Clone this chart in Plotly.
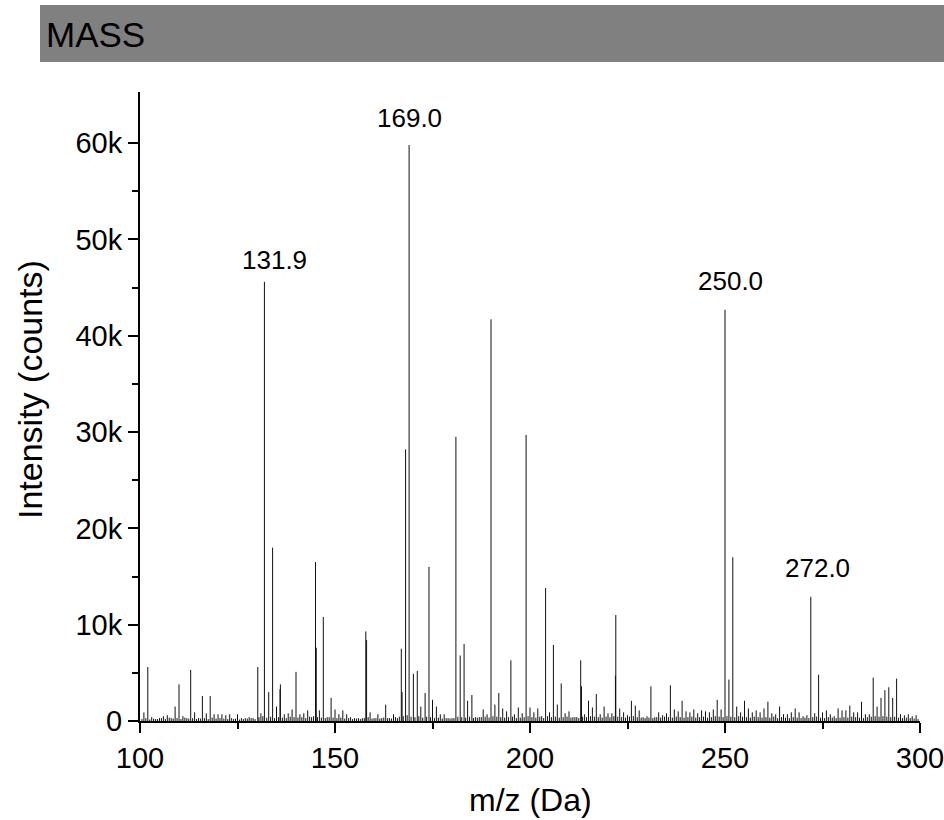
import plotly.graph_objects as go

# ---------------- data ----------------
# labelled / major peaks: m/z and intensity (counts)
peak_mz = [102.0, 110.0, 113.0, 116.0, 118.0, 130.2, 131.9, 133.0, 134.0, 136.0, 135.9,
           140.0, 145.0, 145.2, 147.0, 149.0, 157.9, 158.1, 167.0, 167.2, 168.1, 169.0,
           170.1, 171.1, 173.1, 174.1, 181.0, 182.1, 183.1, 185.1, 190.0, 195.1, 199.0,
           204.0, 206.0, 208.0, 213.0, 213.2, 221.9, 222.0, 231.0, 236.0, 250.0, 251.0,
           252.0, 272.0, 274.0, 288.0, 290.0, 291.0, 292.0, 293.0, 294.0]
peak_int = [5600, 3800, 5300, 2600, 2600, 5600, 45600, 3000, 18000, 3800, 3300,
            5100, 16500, 7600, 10800, 2400, 9300, 8400, 7500, 3000, 28200, 59800,
            4900, 5200, 2900, 16000, 29500, 6800, 8000, 2700, 41700, 6300, 29700,
            13800, 7900, 3900, 6300, 3600, 4700, 11000, 3600, 3700, 42700, 4300,
            17000, 12900, 4800, 4500, 2400, 3200, 3500, 2400, 4400]

# small background peaks at nominal masses: m/z and intensity (counts)
noise_mz = [101, 103, 104, 105, 106, 107, 108, 109, 111, 112, 114, 115, 117, 119, 120,
            121, 122, 123, 124, 125, 126, 127, 128, 129, 131, 135, 137, 138, 139, 141,
            142, 143, 144, 146, 148, 150, 151, 152, 153, 154, 155, 156, 157, 159, 160,
            161, 162, 163, 164, 165, 166, 172, 175, 176, 177, 178, 179, 180, 184, 186,
            187, 188, 189, 191, 192, 193, 194, 196, 197, 198, 200, 201, 202, 203, 205,
            207, 209, 210, 211, 212, 214, 215, 216, 217, 218, 219, 220, 221, 223, 224,
            225, 226, 227, 228, 229, 230, 232, 233, 234, 235, 237, 238, 239, 240, 241,
            242, 243, 244, 245, 246, 247, 248, 249, 253, 254, 255, 256, 257, 258, 259,
            260, 261, 262, 263, 264, 265, 266, 267, 268, 269, 270, 271, 273, 275, 276,
            277, 278, 279, 280, 281, 282, 283, 284, 285, 286, 287, 289, 295, 296, 297,
            298, 299]
noise_int = [900, 400, 200, 300, 500, 600, 300, 1500, 500, 300, 900, 300, 800, 700, 700,
             700, 600, 700, 200, 700, 300, 300, 400, 300, 800, 1500, 700, 800, 1200, 700,
             800, 1100, 400, 1100, 400, 1200, 700, 1100, 700, 400, 300, 300, 300, 900, 300,
             700, 300, 1700, 300, 700, 300, 1500, 2200, 1500, 700, 700, 300, 300, 2100, 400,
             400, 1200, 700, 1700, 2900, 1300, 1000, 700, 1400, 800, 1400, 900, 1300, 500, 900,
             1700, 800, 1000, 400, 400, 700, 2100, 1400, 2800, 700, 1500, 800, 800, 1300, 900,
             600, 2100, 1600, 1100, 400, 500, 400, 900, 600, 800, 1200, 1000, 2100, 1000, 900,
             1200, 800, 1100, 1000, 900, 1200, 2200, 1200, 1500, 900, 2100, 1300, 900, 1100, 900,
             1300, 2000, 800, 700, 1500, 700, 700, 900, 1300, 900, 500, 600, 800, 900, 1100,
             700, 500, 1300, 1100, 1100, 1600, 900, 900, 2000, 700, 700, 1500, 700, 600, 700,
             500, 600]

# very small baseline peaks between nominal masses (100.5 ... 299.5), counts
baseline_int = [200, 300, 150, 250, 200, 300, 200, 350, 250, 300,
                200, 350, 250, 300, 200, 250, 300, 200, 350, 250,
                300, 250, 200, 300, 250, 150, 200, 250, 300, 200,
                400, 500, 350, 450, 300, 400, 350, 300, 450, 400,
                350, 400, 300, 450, 500, 400, 350, 300, 400, 350,
                300, 350, 250, 300, 200, 250, 200, 300, 400, 250,
                300, 250, 350, 300, 250, 400, 450, 500, 600, 450,
                400, 500, 350, 450, 400, 300, 350, 250, 300, 250,
                300, 450, 400, 350, 450, 300, 350, 400, 450, 350,
                500, 450, 400, 350, 400, 450, 300, 350, 400, 500,
                400, 350, 450, 300, 500, 400, 450, 350, 400, 450,
                350, 400, 300, 450, 400, 500, 450, 400, 350, 450,
                400, 500, 450, 400, 350, 450, 500, 400, 350, 300,
                350, 300, 400, 350, 450, 400, 350, 450, 400, 350,
                400, 450, 350, 400, 450, 350, 400, 500, 450, 400,
                500, 450, 400, 500, 450, 400, 350, 450, 400, 350,
                400, 350, 450, 300, 400, 350, 300, 400, 350, 300,
                350, 300, 400, 450, 350, 300, 400, 350, 300, 350,
                400, 350, 450, 400, 350, 300, 400, 450, 500, 450,
                500, 450, 400, 450, 350, 300, 350, 300, 250, 200]
baseline_mz = [100.5 + i for i in range(len(baseline_int))]

label_mz = [131.9, 169.0, 250.0, 272.0]
label_int = [45600, 59800, 42700, 12900]
label_text = ["131.9", "169.0", "250.0", "272.0"]

x_tickvals = [100, 150, 200, 250, 300]
x_minor = [125, 175, 225, 275]
y_tickvals = [0, 10000, 20000, 30000, 40000, 50000, 60000]
y_ticktext = ["0", "10k", "20k", "30k", "40k", "50k", "60k"]
y_minor = [5000, 15000, 25000, 35000, 45000, 55000]

title_text = "MASS"
x_title = "m/z (Da)"
y_title = "Intensity (counts)"

# ---------------- styles ----------------
label_xshift = [10, 0, 5, 7]
label_yshift = [22, 27, 29, 29]
FONT = "Arial, Liberation Sans, sans-serif"

xs, ys = [], []
pairs = (list(zip(baseline_mz, baseline_int)) + list(zip(noise_mz, noise_int))
         + list(zip(peak_mz, peak_int)))
for m, h in pairs:
    xs += [m, m, None]
    ys += [0, h, None]

fig = go.Figure()
fig.add_trace(go.Scatter(x=xs, y=ys, mode="lines",
                         line=dict(color="#111111", width=1),
                         hoverinfo="skip", showlegend=False))

W, H = 944, 820
L, R, T, B = 140, 944 - 920, 92, 820 - 721
pw, ph = W - L - R, H - T - B


def px2paper_x(px):
    return (px - L) / pw


def px2paper_y(py):
    return (H - B - py) / ph


fig.add_shape(type="rect", xref="paper", yref="paper",
              x0=px2paper_x(40), x1=px2paper_x(950),
              y0=px2paper_y(62), y1=px2paper_y(5),
              fillcolor="#808080", line=dict(width=0), layer="below")
fig.add_annotation(xref="paper", yref="paper", x=px2paper_x(44), y=px2paper_y(34),
                   xanchor="left", yanchor="middle", text=title_text, showarrow=False,
                   font=dict(family="Liberation Sans Narrow, Arial Narrow, Liberation Sans",
                             size=35, color="black"))

# axis titles
fig.add_annotation(xref="paper", yref="paper", x=px2paper_x(530), y=px2paper_y(800),
                   xanchor="center", yanchor="middle", text=x_title, showarrow=False,
                   font=dict(family=FONT, size=32, color="black"))
fig.add_annotation(xref="paper", yref="paper", x=px2paper_x(30), y=px2paper_y(390),
                   xanchor="center", yanchor="middle", text=y_title, showarrow=False,
                   textangle=-90, font=dict(family=FONT, size=34, color="black"))

for m, h, t, dx, dy in zip(label_mz, label_int, label_text, label_xshift, label_yshift):
    fig.add_annotation(x=m, y=h, text=t, showarrow=False, xanchor="center",
                       yanchor="middle", xshift=dx, yshift=dy,
                       font=dict(family=FONT, size=26, color="black"))

fig.update_layout(
    width=W, height=H, autosize=False,
    margin=dict(l=L, r=R, t=T, b=B, autoexpand=False),
    paper_bgcolor="white", plot_bgcolor="white",
    font=dict(family=FONT, color="black"),
    xaxis=dict(range=[100, 300], tickvals=x_tickvals, ticks="outside", ticklen=10,
               tickwidth=2, tickcolor="black", showline=True, linecolor="black",
               linewidth=2, showgrid=False, zeroline=False, ticklabeloverflow="allow",
               automargin=False, tickfont=dict(size=29, family=FONT),
               minor=dict(tickvals=x_minor, ticks="outside", ticklen=6, tickwidth=2,
                          tickcolor="black")),
    yaxis=dict(range=[0, 65300], tickvals=y_tickvals, ticktext=y_ticktext,
               ticks="outside", ticklen=10, tickwidth=2, tickcolor="black",
               showline=True, linecolor="black", linewidth=2, showgrid=False,
               zeroline=False, automargin=False, tickfont=dict(size=29, family=FONT),
               minor=dict(tickvals=y_minor, ticks="outside", ticklen=6, tickwidth=2,
                          tickcolor="black")),
)

# remove the page's default 8px body margin so the figure fills the window
fig.write_html("out.html", config={"displayModeBar": False},
               post_script="document.body.style.margin='0px';")
